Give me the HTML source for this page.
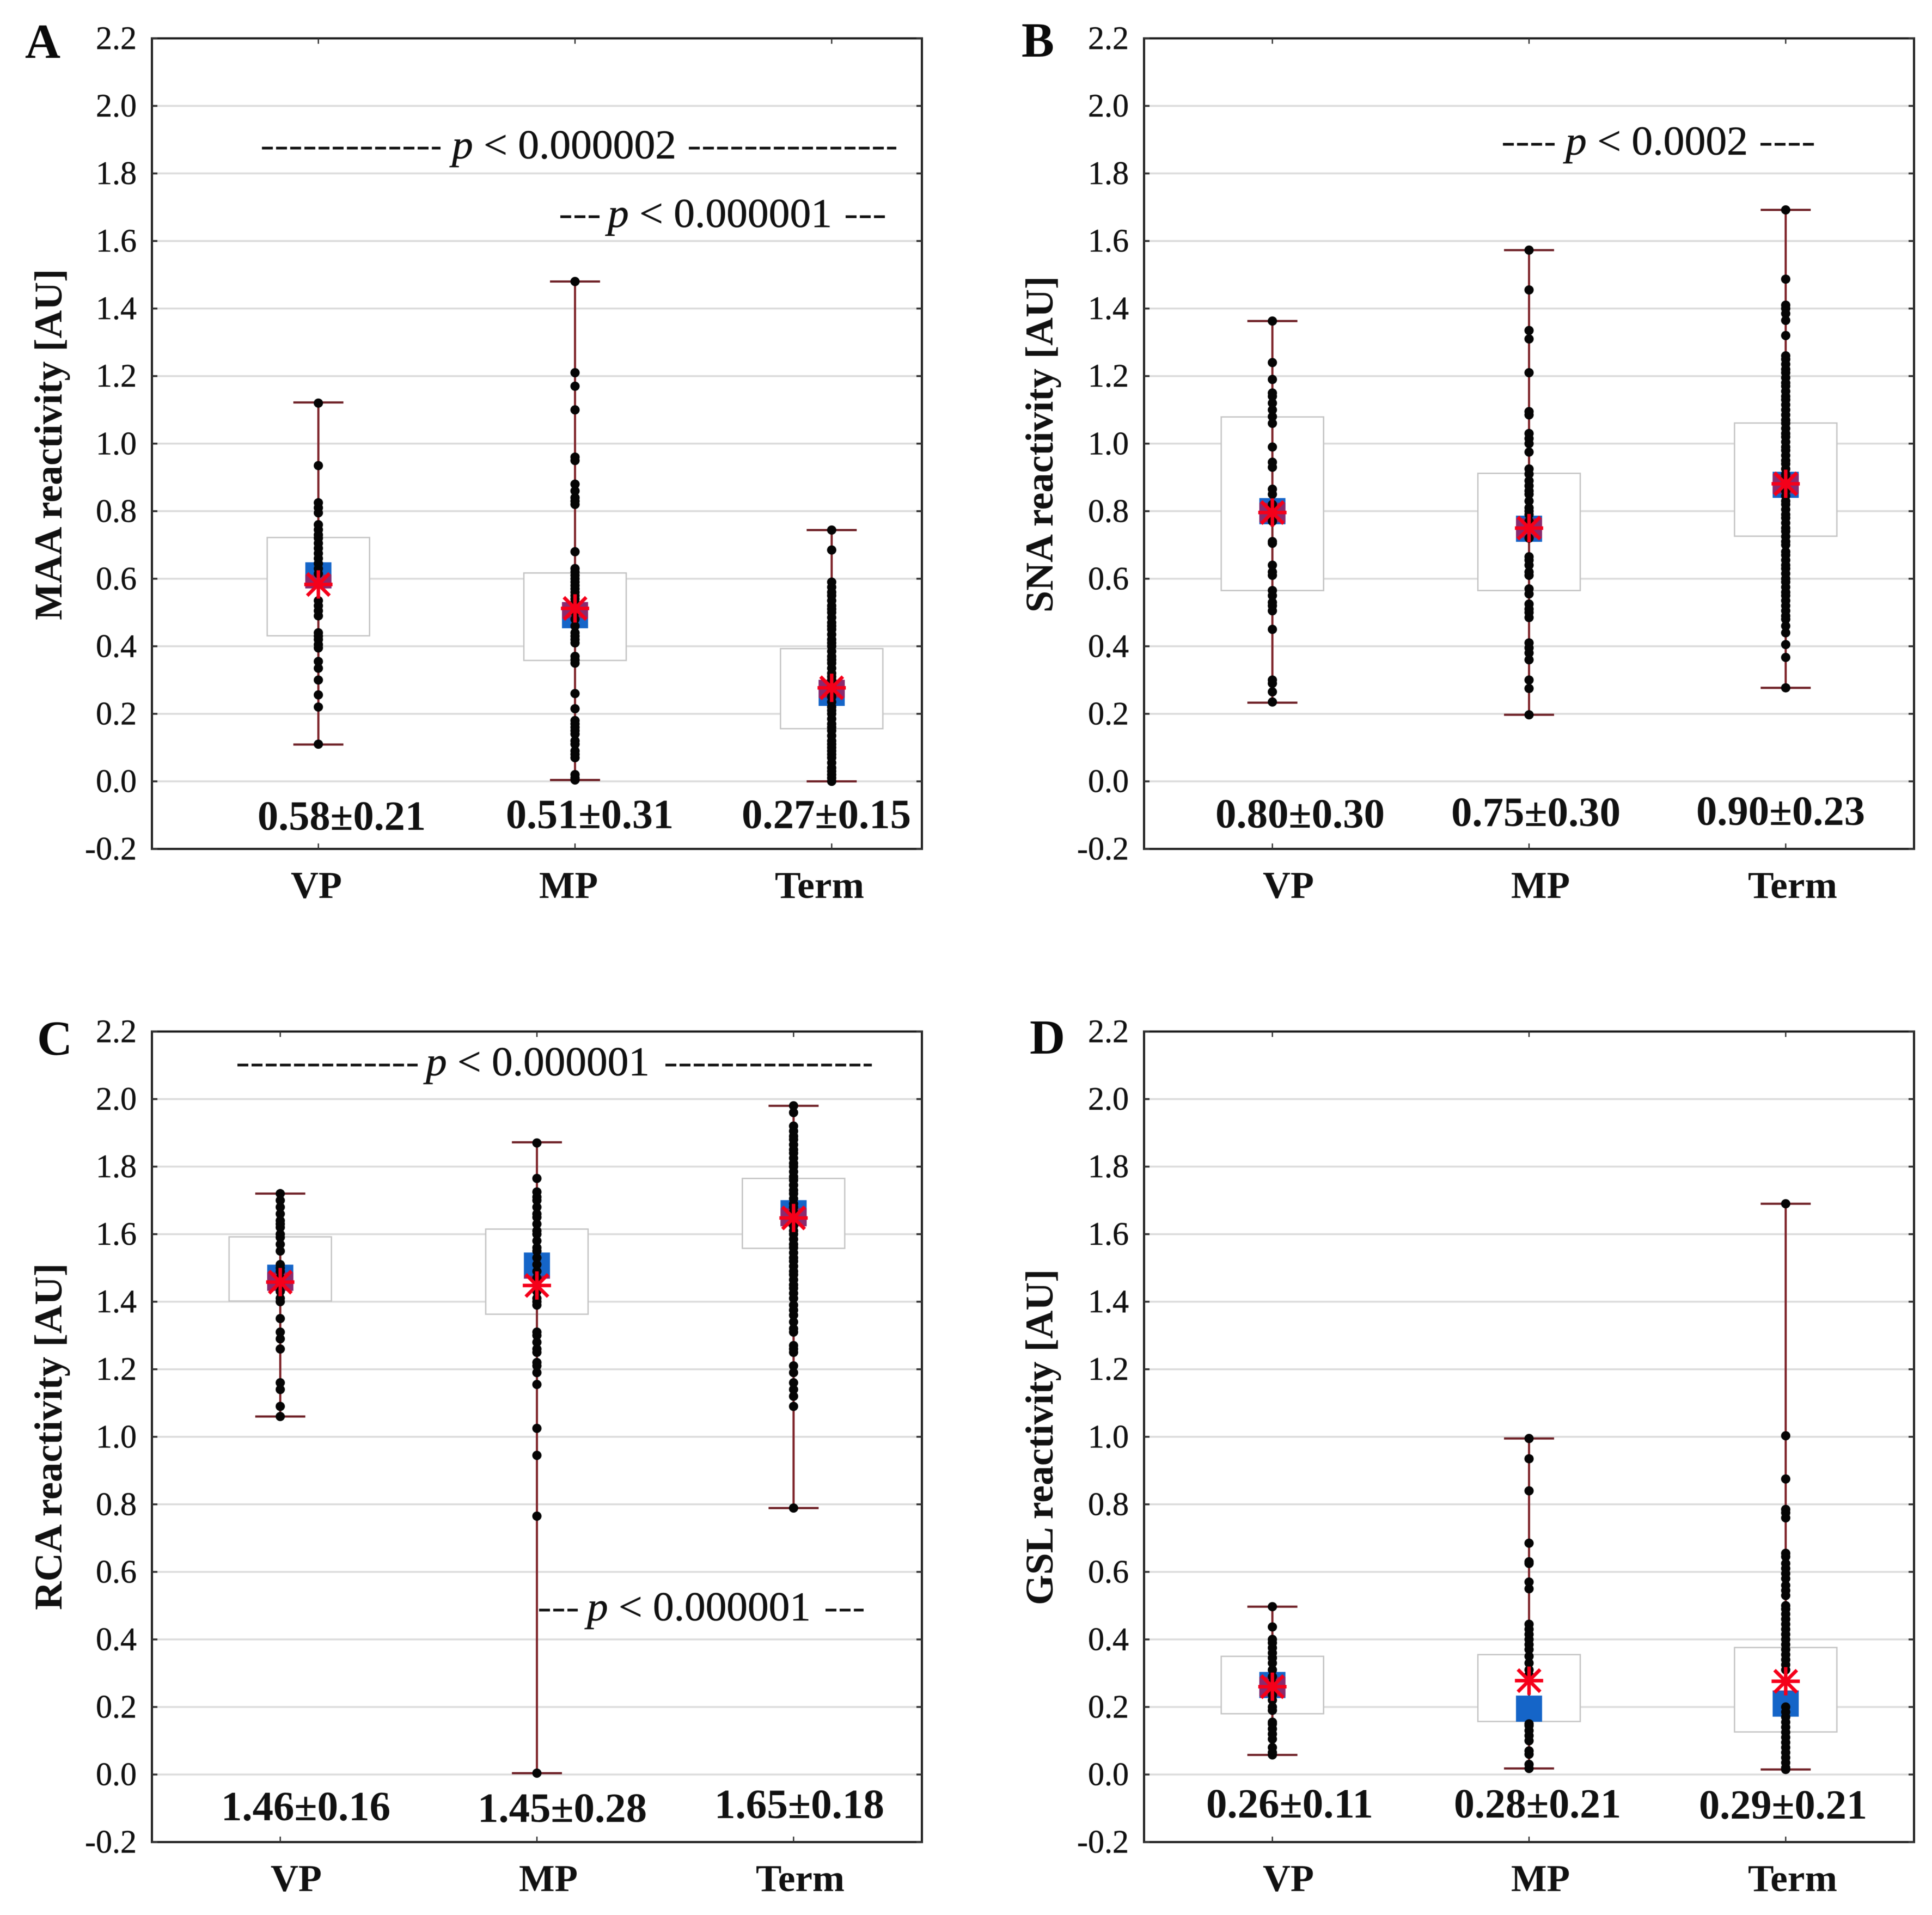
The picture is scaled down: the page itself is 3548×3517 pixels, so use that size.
<!DOCTYPE html>
<html lang="en">
<head>
<meta charset="utf-8">
<title>Reactivity by gestational group</title>
<style>
html,body{margin:0;padding:0;background:#fff;}
svg{display:block;filter:blur(0.9px);font-family:"Liberation Serif",serif;}
.letter{font-weight:bold;font-size:90px;fill:#0a0a0a;}
.ytitle{font-weight:bold;font-size:72px;fill:#111;}
.stat{font-weight:bold;font-size:76px;fill:#111;}
.cat{font-weight:bold;font-size:70px;fill:#111;}
.ptext{font-size:75px;fill:#111;stroke:#111;stroke-width:0.6;}
.dash{stroke:#111;stroke-width:5;stroke-dasharray:20 6;fill:none;}
.tick-label{font-size:60px;fill:#111;stroke:#111;stroke-width:0.5;text-anchor:end;}
</style>
</head>
<body>
<svg id="chart" xmlns="http://www.w3.org/2000/svg" width="3548" height="3517" viewBox="0 0 3548 3517">
  <rect x="0" y="0" width="3548" height="3517" fill="#fff"/>
  <g id="marks"></g>

  <!-- Panel letters -->
  <text class="letter" x="46" y="106">A</text>
  <text class="letter" x="1876" y="104">B</text>
  <text class="letter" x="68" y="1937">C</text>
  <text class="letter" x="1891" y="1935">D</text>

  <!-- Y axis titles -->
  <text class="ytitle" transform="translate(113,1139) rotate(-90)" textLength="645" lengthAdjust="spacingAndGlyphs">MAA reactivity [AU]</text>
  <text class="ytitle" transform="translate(1933,1125) rotate(-90)" textLength="618" lengthAdjust="spacingAndGlyphs">SNA reactivity [AU]</text>
  <text class="ytitle" transform="translate(113,2957) rotate(-90)" textLength="637" lengthAdjust="spacingAndGlyphs">RCA reactivity [AU]</text>
  <text class="ytitle" transform="translate(1933,2948) rotate(-90)" textLength="617" lengthAdjust="spacingAndGlyphs">GSL reactivity [AU]</text>

  <!-- Group statistics -->
  <text class="stat" x="473" y="1524" textLength="309" lengthAdjust="spacingAndGlyphs">0.58±0.21</text>
  <text class="stat" x="929" y="1521" textLength="308" lengthAdjust="spacingAndGlyphs">0.51±0.31</text>
  <text class="stat" x="1362" y="1521" textLength="311" lengthAdjust="spacingAndGlyphs">0.27±0.15</text>
  <text class="stat" x="2232" y="1520" textLength="311" lengthAdjust="spacingAndGlyphs">0.80±0.30</text>
  <text class="stat" x="2665" y="1517" textLength="311" lengthAdjust="spacingAndGlyphs">0.75±0.30</text>
  <text class="stat" x="3115" y="1515" textLength="310" lengthAdjust="spacingAndGlyphs">0.90±0.23</text>
  <text class="stat" x="406" y="3343" textLength="311" lengthAdjust="spacingAndGlyphs">1.46±0.16</text>
  <text class="stat" x="877" y="3346" textLength="311" lengthAdjust="spacingAndGlyphs">1.45±0.28</text>
  <text class="stat" x="1312" y="3339" textLength="312" lengthAdjust="spacingAndGlyphs">1.65±0.18</text>
  <text class="stat" x="2215" y="3338" textLength="307" lengthAdjust="spacingAndGlyphs">0.26±0.11</text>
  <text class="stat" x="2670" y="3338" textLength="307" lengthAdjust="spacingAndGlyphs">0.28±0.21</text>
  <text class="stat" x="3120" y="3340" textLength="309" lengthAdjust="spacingAndGlyphs">0.29±0.21</text>

  <!-- Category labels -->
  <text class="cat" x="534" y="1649" textLength="94" lengthAdjust="spacingAndGlyphs">VP</text>
  <text class="cat" x="990" y="1649" textLength="108" lengthAdjust="spacingAndGlyphs">MP</text>
  <text class="cat" x="1423" y="1649" textLength="164" lengthAdjust="spacingAndGlyphs">Term</text>
  <text class="cat" x="2319" y="1649" textLength="94" lengthAdjust="spacingAndGlyphs">VP</text>
  <text class="cat" x="2775" y="1649" textLength="108" lengthAdjust="spacingAndGlyphs">MP</text>
  <text class="cat" x="3210" y="1649" textLength="164" lengthAdjust="spacingAndGlyphs">Term</text>
  <text class="cat" x="497" y="3473" textLength="94" lengthAdjust="spacingAndGlyphs">VP</text>
  <text class="cat" x="953" y="3473" textLength="108" lengthAdjust="spacingAndGlyphs">MP</text>
  <text class="cat" x="1388" y="3473" textLength="163" lengthAdjust="spacingAndGlyphs">Term</text>
  <text class="cat" x="2319" y="3473" textLength="94" lengthAdjust="spacingAndGlyphs">VP</text>
  <text class="cat" x="2775" y="3473" textLength="108" lengthAdjust="spacingAndGlyphs">MP</text>
  <text class="cat" x="3210" y="3473" textLength="164" lengthAdjust="spacingAndGlyphs">Term</text>

  <!-- Significance annotations -->
  <g>
    <line class="dash" x1="481" y1="272" x2="809" y2="272"/>
    <text class="ptext" x="830" y="291" textLength="412" lengthAdjust="spacingAndGlyphs"><tspan font-style="italic">p</tspan> &lt; 0.000002</text>
    <line class="dash" x1="1265" y1="272" x2="1646" y2="272"/>
  </g>
  <g>
    <line class="dash" x1="1029" y1="398" x2="1101" y2="398"/>
    <text class="ptext" x="1116" y="417" textLength="412" lengthAdjust="spacingAndGlyphs"><tspan font-style="italic">p</tspan> &lt; 0.000001</text>
    <line class="dash" x1="1553" y1="398" x2="1627" y2="398"/>
  </g>
  <g>
    <line class="dash" x1="2760" y1="265" x2="2855" y2="265"/>
    <text class="ptext" x="2875" y="284" textLength="335" lengthAdjust="spacingAndGlyphs"><tspan font-style="italic">p</tspan> &lt; 0.0002</text>
    <line class="dash" x1="3233" y1="265" x2="3332" y2="265"/>
  </g>
  <g>
    <line class="dash" x1="436" y1="1956" x2="767" y2="1956"/>
    <text class="ptext" x="782" y="1975" textLength="411" lengthAdjust="spacingAndGlyphs"><tspan font-style="italic">p</tspan> &lt; 0.000001</text>
    <line class="dash" x1="1222" y1="1956" x2="1601" y2="1956"/>
  </g>
  <g>
    <line class="dash" x1="990" y1="2957" x2="1061" y2="2957"/>
    <text class="ptext" x="1078" y="2976" textLength="411" lengthAdjust="spacingAndGlyphs"><tspan font-style="italic">p</tspan> &lt; 0.000001</text>
    <line class="dash" x1="1516" y1="2957" x2="1586" y2="2957"/>
  </g>
</svg>

<script>
const categories = ['VP', 'MP', 'Term'];
const tickValues = [2.2, 2.0, 1.8, 1.6, 1.4, 1.2, 1.0, 0.8, 0.6, 0.4, 0.2, 0.0, -0.2];
const tickLabels = ['2.2', '2.0', '1.8', '1.6', '1.4', '1.2', '1.0', '0.8', '0.6', '0.4', '0.2', '0.0', '-0.2'];

const maaBoxHigh = [0.722, 0.617, 0.393];
const maaBoxLow = [0.431, 0.358, 0.156];
const maaMax = [1.122, 1.48, 0.744];
const maaMin = [0.109, 0.004, 0.0];
const maaMedian = [0.61, 0.492, 0.262];
const maaMean = [0.583, 0.512, 0.277];
const maaDotsVP = [1.12, 0.935, 0.825, 0.81, 0.795, 0.76, 0.745, 0.73, 0.72, 0.705, 0.69, 0.675, 0.66, 0.645, 0.63, 0.615, 0.535, 0.52, 0.505, 0.49, 0.44, 0.43, 0.42, 0.405, 0.395, 0.355, 0.335, 0.30, 0.256, 0.22, 0.11];
const maaDotsMP = [1.48, 1.21, 1.17, 1.10, 0.96, 0.95, 0.88, 0.86, 0.84, 0.83, 0.82, 0.68, 0.63, 0.62, 0.61, 0.60, 0.59, 0.58, 0.57, 0.56, 0.55, 0.54, 0.53, 0.50, 0.48, 0.46, 0.44, 0.43, 0.42, 0.41, 0.37, 0.36, 0.35, 0.26, 0.215, 0.18, 0.17, 0.16, 0.15, 0.14, 0.12, 0.11, 0.09, 0.08, 0.07, 0.02, 0.01, 0.004];
const maaDotsTerm = [0.744, 0.685, 0.59, 0.575, 0.56, 0.55, 0.535, 0.52, 0.51, 0.50, 0.485, 0.47, 0.46, 0.45, 0.435, 0.42, 0.41, 0.40, 0.385, 0.37, 0.36, 0.35, 0.335, 0.32, 0.31, 0.30, 0.285, 0.27, 0.26, 0.25, 0.235, 0.22, 0.21, 0.20, 0.185, 0.17, 0.16, 0.15, 0.135, 0.12, 0.11, 0.10, 0.09, 0.08, 0.07, 0.055, 0.04, 0.03, 0.02, 0.01, 0.0];

const snaBoxHigh = [1.079, 0.912, 1.061];
const snaBoxLow = [0.565, 0.565, 0.726];
const snaMax = [1.363, 1.573, 1.692];
const snaMin = [0.233, 0.197, 0.277];
const snaMedian = [0.80, 0.748, 0.878];
const snaMean = [0.796, 0.75, 0.881];
const snaDotsVP = [1.363, 1.24, 1.19, 1.15, 1.14, 1.12, 1.10, 1.08, 1.06, 0.99, 0.945, 0.93, 0.865, 0.85, 0.82, 0.80, 0.78, 0.77, 0.71, 0.705, 0.64, 0.62, 0.61, 0.565, 0.55, 0.53, 0.52, 0.505, 0.45, 0.30, 0.29, 0.265, 0.235];
const snaDotsMP = [1.573, 1.455, 1.335, 1.31, 1.21, 1.095, 1.085, 1.03, 1.015, 1.0, 0.975, 0.925, 0.91, 0.89, 0.875, 0.86, 0.85, 0.83, 0.81, 0.80, 0.79, 0.77, 0.75, 0.72, 0.665, 0.655, 0.64, 0.62, 0.61, 0.57, 0.555, 0.525, 0.51, 0.50, 0.485, 0.41, 0.395, 0.38, 0.36, 0.30, 0.275, 0.197];
const snaDotsTerm = [1.692, 1.487, 1.41, 1.40, 1.385, 1.365, 1.32, 1.26, 1.25, 1.235, 1.22, 1.21, 1.195, 1.18, 1.17, 1.155, 1.14, 1.13, 1.115, 1.10, 1.085, 1.07, 1.06, 1.045, 1.03, 1.02, 1.005, 0.99, 0.98, 0.965, 0.95, 0.94, 0.925, 0.91, 0.90, 0.885, 0.87, 0.86, 0.845, 0.83, 0.82, 0.805, 0.79, 0.78, 0.765, 0.75, 0.74, 0.725, 0.71, 0.70, 0.68, 0.67, 0.655, 0.64, 0.63, 0.615, 0.60, 0.59, 0.575, 0.56, 0.55, 0.535, 0.52, 0.505, 0.49, 0.48, 0.46, 0.44, 0.405, 0.367, 0.277];

const rcaBoxHigh = [1.592, 1.615, 1.765];
const rcaBoxLow = [1.402, 1.363, 1.558];
const rcaMax = [1.72, 1.872, 1.98];
const rcaMin = [1.06, 0.004, 0.789];
const rcaMedian = [1.471, 1.507, 1.662];
const rcaMean = [1.458, 1.448, 1.648];
const rcaDotsVP = [1.72, 1.70, 1.68, 1.66, 1.64, 1.63, 1.62, 1.60, 1.59, 1.57, 1.55, 1.51, 1.50, 1.49, 1.47, 1.45, 1.43, 1.41, 1.40, 1.35, 1.31, 1.29, 1.26, 1.16, 1.14, 1.09, 1.06];
const rcaDotsMP = [1.87, 1.765, 1.725, 1.71, 1.70, 1.68, 1.66, 1.65, 1.63, 1.61, 1.60, 1.58, 1.56, 1.55, 1.53, 1.51, 1.49, 1.47, 1.45, 1.43, 1.41, 1.40, 1.39, 1.31, 1.30, 1.28, 1.26, 1.25, 1.22, 1.21, 1.19, 1.155, 1.025, 0.945, 0.765, 0.004];
const rcaDotsTerm = [1.98, 1.96, 1.92, 1.905, 1.89, 1.88, 1.865, 1.85, 1.84, 1.825, 1.81, 1.80, 1.785, 1.77, 1.76, 1.745, 1.73, 1.72, 1.705, 1.69, 1.68, 1.665, 1.65, 1.64, 1.625, 1.61, 1.60, 1.585, 1.57, 1.56, 1.545, 1.53, 1.52, 1.505, 1.49, 1.48, 1.465, 1.45, 1.44, 1.425, 1.41, 1.39, 1.375, 1.36, 1.34, 1.32, 1.31, 1.27, 1.26, 1.25, 1.21, 1.19, 1.16, 1.14, 1.12, 1.09, 0.789];

const gslBoxHigh = [0.35, 0.355, 0.376];
const gslBoxLow = [0.18, 0.157, 0.126];
const gslMax = [0.497, 0.995, 1.69];
const gslMin = [0.058, 0.018, 0.015];
const gslMedian = [0.265, 0.195, 0.21];
const gslMean = [0.26, 0.278, 0.276];
const gslDotsVP = [0.497, 0.437, 0.40, 0.39, 0.375, 0.36, 0.345, 0.33, 0.31, 0.29, 0.27, 0.25, 0.235, 0.22, 0.20, 0.19, 0.155, 0.15, 0.135, 0.12, 0.105, 0.08, 0.065, 0.058];
const gslDotsMP = [0.995, 0.935, 0.84, 0.685, 0.63, 0.625, 0.57, 0.55, 0.445, 0.43, 0.415, 0.40, 0.385, 0.37, 0.35, 0.33, 0.31, 0.295, 0.15, 0.145, 0.13, 0.115, 0.10, 0.07, 0.06, 0.03, 0.018];
const gslDotsTerm = [1.69, 1.003, 0.875, 0.785, 0.775, 0.76, 0.655, 0.645, 0.625, 0.61, 0.595, 0.58, 0.56, 0.545, 0.53, 0.50, 0.49, 0.475, 0.46, 0.445, 0.43, 0.415, 0.40, 0.385, 0.37, 0.355, 0.34, 0.325, 0.31, 0.20, 0.185, 0.17, 0.155, 0.14, 0.125, 0.11, 0.095, 0.08, 0.065, 0.05, 0.035, 0.02, 0.015];

const UNIT = 620.25;
const NS = 'http://www.w3.org/2000/svg';
const root = document.getElementById('marks');

const panels = [
  { key: 'maa', left: 279, right: 1693, zero: 1435, shift: 70, boxHigh: maaBoxHigh, boxLow: maaBoxLow, max: maaMax, min: maaMin, median: maaMedian, mean: maaMean, dots: [maaDotsVP, maaDotsMP, maaDotsTerm] },
  { key: 'sna', left: 2101, right: 3515, zero: 1435, shift: 0, boxHigh: snaBoxHigh, boxLow: snaBoxLow, max: snaMax, min: snaMin, median: snaMedian, mean: snaMean, dots: [snaDotsVP, snaDotsMP, snaDotsTerm] },
  { key: 'rca', left: 279, right: 1693, zero: 3259, shift: 0, boxHigh: rcaBoxHigh, boxLow: rcaBoxLow, max: rcaMax, min: rcaMin, median: rcaMedian, mean: rcaMean, dots: [rcaDotsVP, rcaDotsMP, rcaDotsTerm] },
  { key: 'gsl', left: 2101, right: 3515, zero: 3259, shift: 0, boxHigh: gslBoxHigh, boxLow: gslBoxLow, max: gslMax, min: gslMin, median: gslMedian, mean: gslMean, dots: [gslDotsVP, gslDotsMP, gslDotsTerm] }
];

function shape(parent, tag, attrs) {
  const el = document.createElementNS(NS, tag);
  for (const k in attrs) el.setAttribute(k, attrs[k]);
  parent.appendChild(el);
  return el;
}

function drawPanel(p) {
  const yScale = v => p.zero - v * UNIT;
  const xScale = i => p.left + (p.right - p.left) * (2 * i + 1) / 6 + p.shift;

  const g = shape(root, 'g', {});
  
  

  // Gridlines
  tickValues.forEach((v, i) => {
    if (i === 0 || i === tickValues.length - 1) return;
    const grid = shape(g, 'line', { x1: p.left, x2: p.right, y1: yScale(v), y2: yScale(v), stroke: '#dcdcdc', 'stroke-width': 3.5 });
    
    
  });

  // Boxes
  categories.forEach((c, i) => {
    const x = xScale(i);
    const box = shape(g, 'rect', { x: x - 94, y: yScale(p.boxHigh[i]), width: 188, height: yScale(p.boxLow[i]) - yScale(p.boxHigh[i]), fill: '#fff', stroke: '#c4c4c4', 'stroke-width': 2.5 });
    
    
  });

  // Frame, ticks and tick labels
  const frame = shape(g, 'rect', { x: p.left, y: yScale(2.2), width: p.right - p.left, height: yScale(-0.2) - yScale(2.2), fill: 'none', stroke: '#1c1c1c', 'stroke-width': 4 });
  
  

  tickValues.forEach((v, i) => {
    const y = yScale(v);
    const tl = shape(g, 'line', { x1: p.left, x2: p.left + 10, y1: y, y2: y, stroke: '#333', 'stroke-width': 3.5 });
    
    
    const tr = shape(g, 'line', { x1: p.right - 10, x2: p.right, y1: y, y2: y, stroke: '#333', 'stroke-width': 3.5 });
    
    
    const label = shape(g, 'text', { x: p.left - 28, y: y + 19.5, class: 'tick-label' });
    label.textContent = tickLabels[i];
    
    
  });

  categories.forEach((c, i) => {
    const x = xScale(i);
    const tb = shape(g, 'line', { x1: x, x2: x, y1: yScale(-0.2) - 10, y2: yScale(-0.2), stroke: '#333', 'stroke-width': 2.5 });
    
    
    const tt = shape(g, 'line', { x1: x, x2: x, y1: yScale(2.2), y2: yScale(2.2) + 10, stroke: '#333', 'stroke-width': 2.5 });
    
    
  });

  // Series marks
  categories.forEach((c, i) => {
    const name = c.toLowerCase();
    const x = xScale(i);
    const yHi = yScale(p.max[i]);
    const yLo = yScale(p.min[i]);
    const whisker = shape(g, 'line', { x1: x, x2: x, y1: yHi, y2: yLo, stroke: '#7d2228', 'stroke-width': 4 });
    
    
    const capHi = shape(g, 'line', { x1: x - 46, x2: x + 46, y1: yHi, y2: yHi, stroke: '#6e2026', 'stroke-width': 4 });
    
    
    const capLo = shape(g, 'line', { x1: x - 46, x2: x + 46, y1: yLo, y2: yLo, stroke: '#6e2026', 'stroke-width': 4 });
    
    

    const medY = yScale(p.median[i]);
    const meanY = yScale(p.mean[i]);
    const median = shape(g, 'rect', { x: x - 24, y: medY - 24, width: 48, height: 48, fill: '#1565c8' });
    
    

    // Purple tint where the mean star overlaps the median square
    const ovTop = Math.max(medY - 24, meanY - 18);
    const ovBottom = Math.min(medY + 24, meanY + 18);
    if (ovBottom > ovTop) {
      const tint = shape(g, 'rect', { x: x - 24, y: ovTop, width: 48, height: ovBottom - ovTop, fill: '#8a2a6e' });
      
      
    }

    p.dots[i].forEach(v => {
      const dot = shape(g, 'circle', { cx: x, cy: yScale(v), r: 8.5, fill: '#050505' });
      
      
    });

    const star = shape(g, 'g', { stroke: '#f5001a', 'stroke-width': 6.5, 'stroke-linecap': 'butt' });
    
    
    [0, 45, 90, 135].forEach(a => {
      const r = a % 90 === 0 ? 26 : 29;
      const dx = r * Math.cos(a * Math.PI / 180);
      const dy = r * Math.sin(a * Math.PI / 180);
      const ray = shape(star, 'line', { x1: x - dx, x2: x + dx, y1: meanY - dy, y2: meanY + dy });
      
      
    });
  });
}

panels.forEach(drawPanel);
</script>
</body>
</html>
